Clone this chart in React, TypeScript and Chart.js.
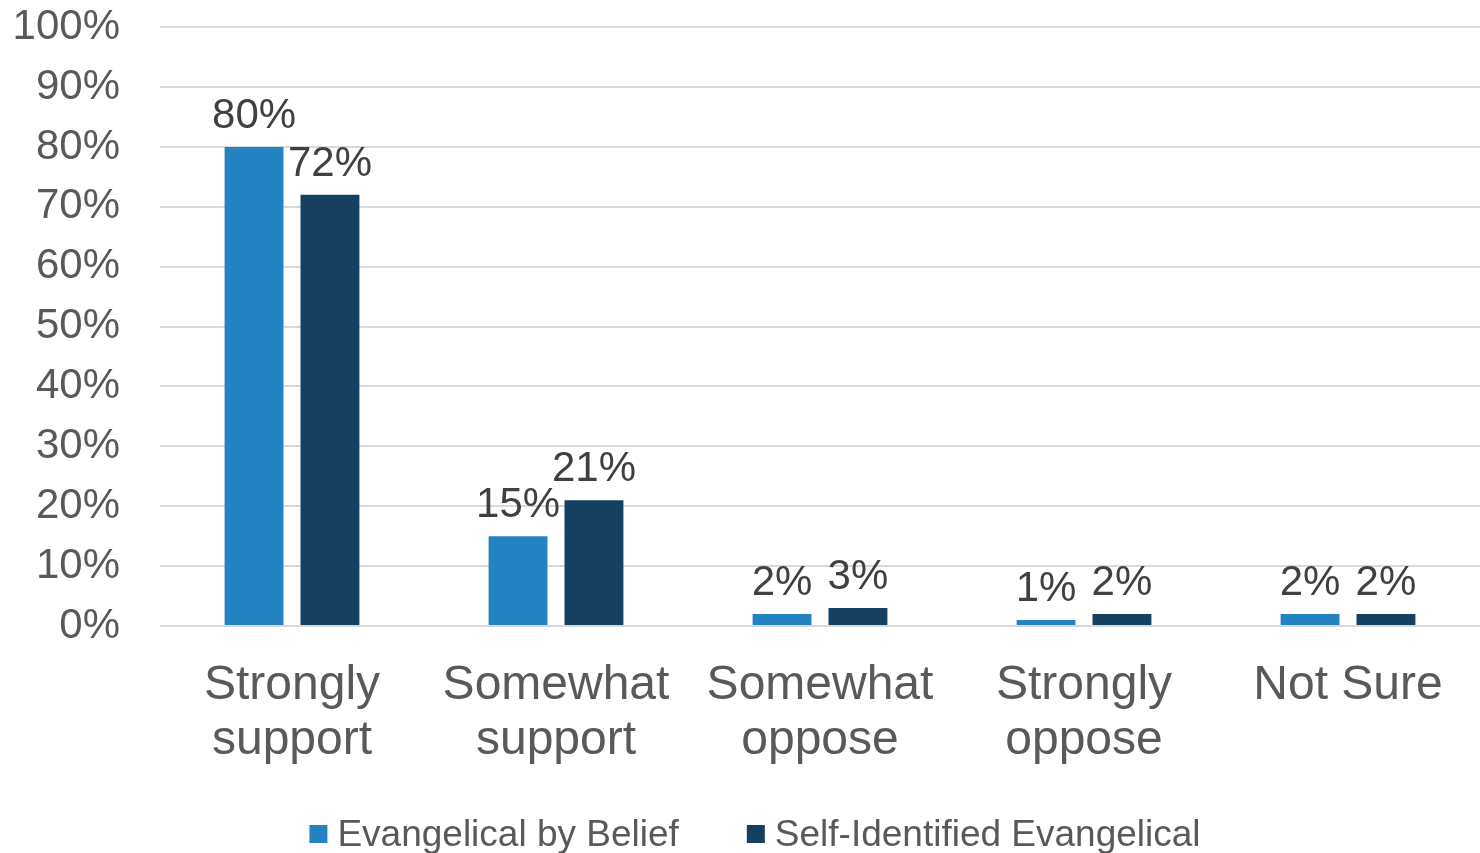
import React, { useEffect, useRef } from "react";
import { Chart, registerables } from "chart.js";

Chart.register(...registerables);

const categories: (string | string[])[] = [
  ["Strongly", "support"],
  ["Somewhat", "support"],
  ["Somewhat", "oppose"],
  ["Strongly", "oppose"],
  "Not Sure",
];
const seriesNames = ["Evangelical by Belief", "Self-Identified Evangelical"];
const beliefValues = [80, 15, 2, 1, 2];
const selfIdValues = [72, 21, 3, 2, 2];
const seriesColors = ["#2484C1", "#15405F"];

const FONT = "'Liberation Sans', Arial, sans-serif";

const valueLabels = {
  id: "valueLabels",
  afterDatasetsDraw(chart: any) {
    const ctx = chart.ctx;
    ctx.save();
    ctx.font = `42px ${FONT}`;
    ctx.fillStyle = "#404040";
    ctx.textAlign = "center";
    ctx.textBaseline = "alphabetic";
    chart.data.datasets.forEach((ds: any, i: number) => {
      const meta = chart.getDatasetMeta(i);
      meta.data.forEach((bar: any, j: number) => {
        ctx.fillText(`${ds.data[j]}%`, bar.x, bar.y - 19);
      });
    });
    ctx.restore();
  },
};

const customLegend = {
  id: "customLegend",
  afterDraw(chart: any) {
    const ctx = chart.ctx;
    ctx.save();
    ctx.font = `37px ${FONT}`;
    ctx.textBaseline = "middle";
    const box = 18;
    const gapText = 10;
    const gapItems = 68;
    const items = chart.data.datasets.map((ds: any) => ({
      label: ds.label,
      color: ds.backgroundColor,
      w: ctx.measureText(ds.label).width,
    }));
    let total = 0;
    items.forEach((it: any, i: number) => {
      total += box + gapText + it.w + (i > 0 ? gapItems : 0);
    });
    let x = 755 - total / 2;
    const y = 834;
    items.forEach((it: any) => {
      ctx.fillStyle = it.color;
      ctx.fillRect(x, y - box / 2, box, box);
      x += box + gapText;
      ctx.fillStyle = "#595959";
      ctx.textAlign = "left";
      ctx.fillText(it.label, x, y + 2);
      x += it.w + gapItems;
    });
    ctx.restore();
  },
};

export default function App() {
  const canvasRef = useRef<HTMLCanvasElement | null>(null);

  useEffect(() => {
    document.body.style.margin = "0";
    const chart = new Chart(canvasRef.current as HTMLCanvasElement, {
      type: "bar",
      data: {
        labels: categories,
        datasets: [
          {
            label: seriesNames[0],
            data: beliefValues,
            backgroundColor: seriesColors[0],
            categoryPercentage: 0.575,
            barPercentage: 0.776,
          },
          {
            label: seriesNames[1],
            data: selfIdValues,
            backgroundColor: seriesColors[1],
            categoryPercentage: 0.575,
            barPercentage: 0.776,
          },
        ],
      },
      options: {
        animation: false,
        responsive: false,
        maintainAspectRatio: false,
        layout: { padding: { top: 2, right: 0, bottom: 77, left: 0 } },
        plugins: {
          legend: { display: false },
          tooltip: { enabled: false },
        },
        scales: {
          x: {
            grid: { display: false, drawTicks: false },
            border: { display: false },
            ticks: {
              color: "#595959",
              font: { family: FONT, size: 48, lineHeight: 1.15 },
              padding: 32,
              maxRotation: 0,
              autoSkip: false,
            },
            afterFit: (scale: any) => {
              scale.height = 150;
            },
          },
          y: {
            min: 0,
            max: 100,
            ticks: {
              stepSize: 10,
              color: "#595959",
              font: { family: FONT, size: 42 },
              padding: 2,
              callback: (v: any) => `${v}%`,
            },
            grid: {
              color: "#D9D9D9",
              lineWidth: 2,
              drawTicks: true,
              tickLength: 38,
              tickColor: "rgba(0,0,0,0)",
            },
            border: { display: false },
            afterFit: (scale: any) => {
              scale.width = 160;
            },
          },
        },
      },
      plugins: [valueLabels, customLegend],
    });
    return () => chart.destroy();
  }, []);

  return (
    <div style={{ width: 1480, height: 853 }}>
      <canvas ref={canvasRef} width={1480} height={853} style={{ display: "block" }} />
    </div>
  );
}
